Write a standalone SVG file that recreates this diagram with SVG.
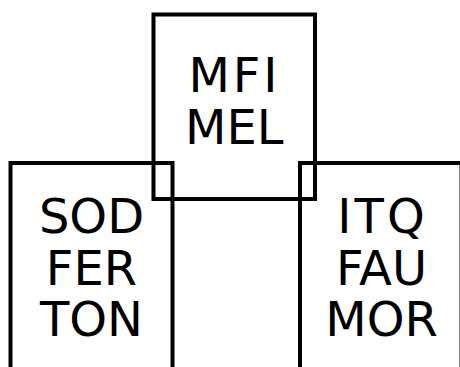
<svg xmlns="http://www.w3.org/2000/svg" width="460" height="367" viewBox="0 0 460 367">
<style>
.box{fill:none;stroke:#000;stroke-width:4}
.t{font-family:"DejaVu Sans",Verdana,sans-serif;font-size:48px;fill:#000;text-anchor:middle}
</style>
<rect width="460" height="367" fill="#fff"/>
<g id="connectors"></g>
<g id="node-mfi">
<rect class="box" x="153.5" y="14.5" width="161.5" height="184.5"/>
<text class="t" x="233" y="91.5" textLength="89" lengthAdjust="spacing">MFI</text>
<text class="t" x="234.25" y="144">MEL</text>
</g>
<g id="node-sod">
<rect class="box" x="10.5" y="163" width="162" height="230"/>
<text class="t" x="91.5" y="232.5">SOD</text>
<text class="t" x="91.5" y="284.5">FER</text>
<text class="t" x="91.5" y="336">TON</text>
</g>
<g id="node-itq">
<rect class="box" x="300" y="163" width="161.5" height="230"/>
<text class="t" x="381" y="232.5" textLength="87.6" lengthAdjust="spacing">ITQ</text>
<text class="t" x="381.5" y="284.5">FAU</text>
<text class="t" x="381.5" y="336">MOR</text>
</g>
</svg>
